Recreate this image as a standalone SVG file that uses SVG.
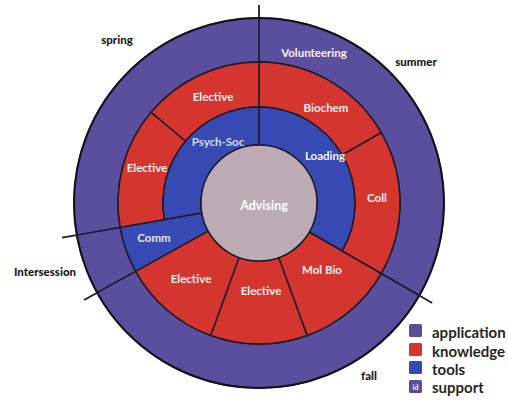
<svg xmlns="http://www.w3.org/2000/svg" width="508" height="400" viewBox="0 0 508 400">
<style>
.app{fill:#5a4e9e}
.kn{fill:#d4352e}
.tl{fill:#3749b2}
.sp{fill:#bcabb3}
.seg{stroke:#1d1a2a;stroke-width:1.5;stroke-linejoin:round}
.lbl{font-family:Lato,"Open Sans","Liberation Sans",sans-serif;font-weight:bold;font-size:11.5px;fill:#fdf2f2;text-anchor:middle;dominant-baseline:central}
.season{font-family:Lato,"Open Sans","Liberation Sans",sans-serif;font-weight:900;font-size:11.5px;fill:#1a1a1a;text-anchor:middle;dominant-baseline:central}
.leg{font-family:Lato,"Open Sans","Liberation Sans",sans-serif;font-weight:bold;font-size:15px;fill:#262626}
.tick{stroke:#1d1a2a;stroke-width:1.8}
</style>
<rect width="508" height="400" fill="#ffffff"/>

<g id="summer">
<path class="app seg" d="M419.21,295.5 A185,185 0 0 0 259,18 L259,62 A141,141 0 0 1 381.11,273.5 Z"/>
<text class="season" x="416" y="61">summer</text>
<text class="lbl" x="314" y="52">Volunteering</text>
</g>
<g id="spring">
<path class="app seg" d="M259,18 A185,185 0 0 0 76.81,235.12 L120.14,227.48 A141,141 0 0 1 259,62 Z"/>
<text class="season" x="117" y="39">spring</text>
</g>
<g id="intersession">
<path class="app seg" d="M76.81,235.12 A185,185 0 0 0 97.2,292.69 L135.68,271.36 A141,141 0 0 1 120.14,227.48 Z"/>
<text class="season" x="45" y="271">Intersession</text>
</g>
<g id="fall">
<path class="app seg" d="M97.2,292.69 A185,185 0 0 0 419.21,295.5 L381.11,273.5 A141,141 0 0 1 135.68,271.36 Z"/>
<text class="season" x="369" y="375">fall</text>
</g>

<g id="coll">
<path class="kn seg" d="M381.11,273.5 A141,141 0 0 0 381.11,132.5 L342.14,155 A96,96 0 0 1 342.14,251 Z"/>
<text class="lbl" x="377" y="197">Coll</text>
</g>
<g id="biochem">
<path class="kn seg" d="M381.11,132.5 A141,141 0 0 0 259,62 L259,107 A96,96 0 0 1 342.14,155 Z"/>
<text class="lbl" x="326" y="107">Biochem</text>
</g>
<g id="elective-top">
<path class="kn seg" d="M259,62 A141,141 0 0 0 150.99,112.37 L185.46,141.29 A96,96 0 0 1 259,107 Z"/>
<text class="lbl" x="213" y="96">Elective</text>
</g>
<g id="elective-left">
<path class="kn seg" d="M150.99,112.37 A141,141 0 0 0 120.14,227.48 L164.46,219.67 A96,96 0 0 1 185.46,141.29 Z"/>
<text class="lbl" x="147" y="167">Elective</text>
</g>
<g id="loading">
<path class="tl seg" d="M342.14,251 A96,96 0 0 0 259,107 L259,145 A58,58 0 0 1 309.23,232 Z"/>
<text class="lbl" x="325" y="155" style="fill:#f4f6ff">Loading</text>
</g>
<g id="psych-soc">
<path class="tl seg" d="M259,107 A96,96 0 0 0 164.46,219.67 L201.88,213.07 A58,58 0 0 1 259,145 Z"/>
<text class="lbl" x="218" y="141" style="fill:#d3def7">Psych-Soc</text>
</g>
<g id="comm">
<path class="tl seg" d="M120.14,227.48 A141,141 0 0 0 135.68,271.36 L208.27,231.12 A58,58 0 0 1 201.88,213.07 Z"/>
<text class="lbl" x="154" y="237" style="fill:#e2e9fa">Comm</text>
</g>
<g id="elective-lower-left">
<path class="kn seg" d="M135.68,271.36 A141,141 0 0 0 210.78,335.5 L239.16,257.5 A58,58 0 0 1 208.27,231.12 Z"/>
<text class="lbl" x="191" y="278">Elective</text>
</g>
<g id="elective-bottom">
<path class="kn seg" d="M210.78,335.5 A141,141 0 0 0 307.22,335.5 L278.84,257.5 A58,58 0 0 1 239.16,257.5 Z"/>
<text class="lbl" x="261" y="290">Elective</text>
</g>
<g id="mol-bio">
<path class="kn seg" d="M307.22,335.5 A141,141 0 0 0 381.11,273.5 L309.23,232 A58,58 0 0 1 278.84,257.5 Z"/>
<text class="lbl" x="322" y="269">Mol Bio</text>
</g>
<g id="advising">
<circle class="sp seg" cx="259" cy="203" r="58"/>
<text class="lbl" x="264" y="205" style="font-size:12.5px;fill:#ffffff">Advising</text>
</g>

<g id="connectors">
<circle cx="259" cy="203" r="185" fill="none" stroke="#141218" stroke-width="2"/>
<line class="tick" x1="259" y1="18" x2="259" y2="5"/>
<line class="tick" x1="419.21" y1="295.5" x2="432.2" y2="303"/>
<line class="tick" x1="97.2" y1="292.69" x2="84.08" y2="299.96"/>
<line class="tick" x1="76.81" y1="235.12" x2="62.04" y2="237.73"/>
</g>

<g id="legend">
<rect class="app" x="409" y="324" width="13" height="13" rx="1.5"/>
<text class="leg" x="432" y="338">application</text>
<rect class="kn" x="409" y="343" width="13" height="13" rx="1.5"/>
<text class="leg" x="432" y="357">knowledge</text>
<rect class="tl" x="409" y="361" width="13" height="13" rx="1.5"/>
<text class="leg" x="432" y="375">tools</text>
<rect class="app" x="409" y="380" width="13" height="13" rx="1.5"/>
<text x="415.5" y="389.5" text-anchor="middle" style="font-family:Lato,'Liberation Sans',sans-serif;font-size:7px;font-weight:bold;fill:#ffffff">id</text>
<text class="leg" x="432" y="393">support</text>
</g>
</svg>
